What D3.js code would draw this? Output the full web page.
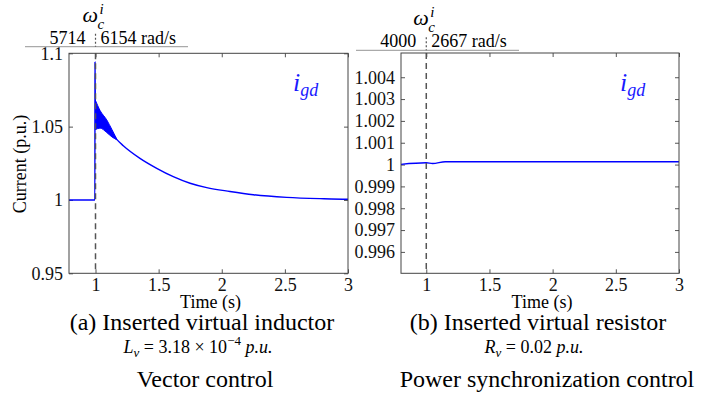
<!DOCTYPE html>
<html>
<head>
<meta charset="utf-8">
<script src="https://cdn.jsdelivr.net/npm/d3@7"></script>
<style>
  body { margin: 0; background: #fff; }
  svg { display: block; font-family: "Liberation Serif", "Times New Roman", Times, serif; }
  .tick text { font-size: 18px; fill: #111; }
  .tick line { stroke: #555; }
</style>
</head>
<body>
<div id="chart"></div>
<script>
'use strict';

// LEFT PANEL (vector control, virtual inductor)
var leftTime = [0.79, 0.995, 0.996, 0.999, 1.036, 1.089, 1.13, 1.168, 1.22, 1.352, 1.485, 1.616, 1.749, 1.881, 2.065, 2.25, 2.514, 2.778, 2.99, 3.0];
var leftCurrent = [1.0, 1.0, 1.094, 1.058, 1.0545, 1.0495, 1.0455, 1.0413, 1.037, 1.0284, 1.0216, 1.0159, 1.0114, 1.0084, 1.0058, 1.0036, 1.0018, 1.0009, 1.0005, 1.0005];
// envelope of the fast oscillation right after the switch
var bandTime = [0.999, 1.036, 1.089, 1.13, 1.168];
var bandUpper = [1.068, 1.061, 1.0546, 1.048, 1.0415];
var bandLower = [1.048, 1.049, 1.046, 1.043, 1.0411];
var leftXTicks = [1, 1.5, 2, 2.5, 3];
var leftYTicks = [0.95, 1, 1.05, 1.1];

// RIGHT PANEL (power synchronization control, virtual resistor)
var rightTime = [0.8, 1.0, 1.05, 1.15, 3.0];
var rightCurrent = [1.00001, 1.00008, 1.00005, 1.00013, 1.00013];
var rightXTicks = [1, 1.5, 2, 2.5, 3];
var rightYTicks = [0.996, 0.997, 0.998, 0.999, 1, 1.001, 1.002, 1.003, 1.004];

var svg = d3.select('#chart')
    .append('svg')
    .attr('width', 710)
    .attr('height', 394);

var panels = [
    {
        left: 69, right: 348, top: 53.3, bottom: 273.3,
        xDomain: [0.79, 3], yDomain: [0.95, 1.1],
        xTicks: leftXTicks, yTicks: leftYTicks,
        time: leftTime, current: leftCurrent, band: true,
        freqLeft: '5714', freqRight: '6154 rad/s', headerY: 46.7, headerX: [25, 188],
        title: '(a) Inserted virtual inductor', center: 202,
        param: [
            { t: 'L', s: 'italic' }, { t: 'v', s: 'sub' },
            { t: ' = 3.18 \u00d7 10' }, { t: '\u22124', s: 'sup' }, { t: ' p.u.', s: 'italic' }
        ],
        control: 'Vector control', ctrlCenter: 205, labelX: 293
    },
    {
        left: 401, right: 679, top: 53, bottom: 273.3,
        xDomain: [0.8, 3], yDomain: [0.99502, 1.00511],
        xTicks: rightXTicks, yTicks: rightYTicks,
        time: rightTime, current: rightCurrent, band: false,
        freqLeft: '4000', freqRight: '2667 rad/s', headerY: 50.3, headerX: [356, 519],
        title: '(b) Inserted virtual resistor', center: 538,
        param: [
            { t: 'R', s: 'italic' }, { t: 'v', s: 'sub' },
            { t: ' = 0.02 ' }, { t: 'p.u.', s: 'italic' }
        ],
        control: 'Power synchronization control', ctrlCenter: 547, labelX: 620
    }
];

function cleanAxis(a) {
    a.select('.domain').remove();
    a.attr('font-family', null).attr('font-size', null);
}

panels.forEach(function(p) {
    var x = d3.scaleLinear().domain(p.xDomain).range([p.left, p.right]);
    var y = d3.scaleLinear().domain(p.yDomain).range([p.bottom, p.top]);
    var g = svg.append('g');

    // AXES (inward ticks on all four sides, matlab style)
    g.append('g')
        .attr('transform', 'translate(0,' + p.bottom + ')')
        .call(d3.axisBottom(x).tickValues(p.xTicks).tickSize(-4).tickPadding(5).tickFormat(d3.format('')))
        .call(cleanAxis);
    g.append('g')
        .attr('transform', 'translate(0,' + p.top + ')')
        .call(d3.axisTop(x).tickValues(p.xTicks).tickSize(-4).tickFormat(''))
        .call(cleanAxis);
    g.append('g')
        .attr('transform', 'translate(' + p.left + ',0)')
        .call(d3.axisLeft(y).tickValues(p.yTicks).tickSize(-4).tickPadding(6).tickFormat(d3.format('')))
        .call(cleanAxis);
    g.append('g')
        .attr('transform', 'translate(' + p.right + ',0)')
        .call(d3.axisRight(y).tickValues(p.yTicks).tickSize(-4).tickFormat(''))
        .call(cleanAxis);

    // OSCILLATION BAND
    if (p.band) {
        var bandData = bandTime.map(function(t, i) {
            return { t: t, hi: bandUpper[i], lo: bandLower[i] };
        });
        g.append('path')
            .datum(bandData)
            .attr('fill', '#0000ff')
            .attr('stroke', '#0000ff')
            .attr('stroke-width', 1)
            .attr('d', d3.area()
                .curve(d3.curveMonotoneX)
                .x(function(d) { return x(d.t); })
                .y0(function(d) { return y(d.lo); })
                .y1(function(d) { return y(d.hi); }));
    }

    // CURRENT TRACE
    g.append('path')
        .datum(p.time.map(function(t, i) { return [t, p.current[i]]; }))
        .attr('fill', 'none')
        .attr('stroke', '#0000ff')
        .attr('stroke-width', 1.4)
        .attr('d', d3.line()
            .curve(d3.curveMonotoneX)
            .x(function(d) { return x(d[0]); })
            .y(function(d) { return y(d[1]); }));

    // SWITCH INSTANT
    g.append('line')
        .attr('x1', x(1)).attr('x2', x(1))
        .attr('y1', p.top).attr('y2', p.bottom)
        .attr('stroke', '#555')
        .attr('stroke-width', 1.5)
        .attr('stroke-dasharray', '6,4');

    // FRAME
    g.append('rect')
        .attr('x', p.left).attr('y', p.top)
        .attr('width', p.right - p.left).attr('height', p.bottom - p.top)
        .attr('fill', 'none')
        .attr('stroke', '#444')
        .attr('stroke-width', 1);

    // i_gd label
    var lbl = g.append('text')
        .attr('x', p.labelX).attr('y', p.top + 38)
        .attr('fill', '#1a1aff')
        .attr('font-style', 'italic')
        .attr('font-size', 26);
    lbl.append('tspan').text('i');
    lbl.append('tspan').attr('font-size', 18).attr('dy', 5).text('gd');

    // HEADER: crossover frequency before / after
    var xs = x(1);
    g.append('line')
        .attr('x1', p.headerX[0]).attr('x2', p.headerX[1])
        .attr('y1', p.headerY).attr('y2', p.headerY)
        .attr('stroke', '#aaa').attr('stroke-width', 1.2);
    g.append('line')
        .attr('x1', xs).attr('x2', xs)
        .attr('y1', p.headerY - 13).attr('y2', p.headerY)
        .attr('stroke', '#555').attr('stroke-width', 1.2)
        .attr('stroke-dasharray', '2,2');
    g.append('text')
        .attr('x', xs - 10).attr('y', p.headerY - 3)
        .attr('text-anchor', 'end').attr('font-size', 18)
        .text(p.freqLeft);
    g.append('text')
        .attr('x', xs + 5).attr('y', p.headerY - 3)
        .attr('font-size', 18)
        .text(p.freqRight);
    g.append('text')
        .attr('x', xs - 13).attr('y', p.headerY - 25)
        .attr('font-size', 22).attr('font-style', 'italic')
        .text('\u03c9');
    g.append('text')
        .attr('x', xs + 4).attr('y', p.headerY - 33)
        .attr('font-size', 15).attr('font-style', 'italic')
        .text('i');
    g.append('text')
        .attr('x', xs + 2).attr('y', p.headerY - 18)
        .attr('font-size', 15).attr('font-style', 'italic')
        .text('c');

    // CAPTIONS
    var cx = (p.left + p.right) / 2;
    g.append('text')
        .attr('x', cx + 2).attr('y', 308)
        .attr('text-anchor', 'middle').attr('font-size', 18)
        .text('Time (s)');
    g.append('text')
        .attr('x', p.center).attr('y', 330)
        .attr('text-anchor', 'middle').attr('font-size', 24)
        .text(p.title);
    var par = g.append('text')
        .attr('x', p.center - 4).attr('y', 353)
        .attr('text-anchor', 'middle').attr('font-size', 18);
    var shift = 0;
    p.param.forEach(function(part) {
        var ts = par.append('tspan').text(part.t);
        var target = 0;
        if (part.s === 'italic') {
            ts.attr('font-style', 'italic');
        } else if (part.s === 'sub') {
            ts.attr('font-style', 'italic').attr('font-size', 13);
            target = 4;
        } else if (part.s === 'sup') {
            ts.attr('font-size', 13);
            target = -8;
        }
        if (target !== shift) {
            ts.attr('dy', target - shift);
            shift = target;
        }
    });
    g.append('text')
        .attr('x', p.ctrlCenter).attr('y', 387)
        .attr('text-anchor', 'middle').attr('font-size', 24)
        .text(p.control);
});

// Y AXIS LABEL
svg.append('text')
    .attr('transform', 'translate(26,164) rotate(-90)')
    .attr('text-anchor', 'middle')
    .attr('font-size', 18)
    .text('Current (p.u.)');
</script>
</body>
</html>
